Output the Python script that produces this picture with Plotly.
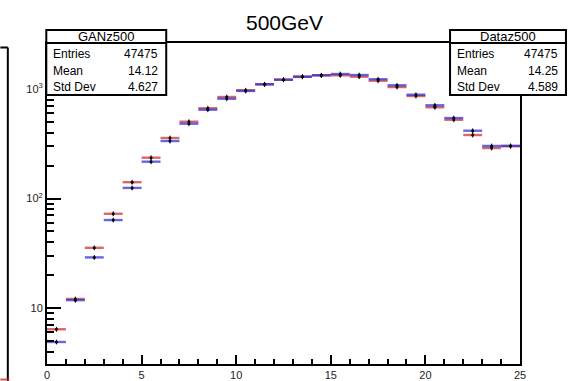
import plotly.graph_objects as go

# ---- data ----
bin_centers = [0.5, 1.5, 2.5, 3.5, 4.5, 5.5, 6.5, 7.5, 8.5, 9.5, 10.5, 11.5,
               12.5, 13.5, 14.5, 15.5, 16.5, 17.5, 18.5, 19.5, 20.5, 21.5,
               22.5, 23.5, 24.5]
gan_counts = [6.4, 12.1, 35.5, 72.6, 141, 236, 357, 503, 667, 845, 975, 1104,
              1216, 1295, 1334, 1334, 1296, 1191, 1042, 863, 681, 524,
              380, 289, 300]
data_counts = [4.9, 11.8, 29.0, 63.6, 125, 217, 335, 482, 647, 815, 960, 1104,
               1216, 1295, 1334, 1371, 1342, 1227, 1081, 887, 710, 543,
               416, 302, 303]
half_width = [0.5] * len(bin_centers)

x_ticks_major = [0, 5, 10, 15, 20, 25]
x_ticks_minor = list(range(0, 26))
y_tick_vals = [10, 100, 1000]
y_tick_text = ["10", "10<sup>2</sup>", "10<sup>3</sup>"]
y_minor_vals = [4, 5, 6, 7, 8, 9, 20, 30, 40, 50, 60, 70, 80, 90,
                200, 300, 400, 500, 600, 700, 800, 900, 2000]

stats_gan = {"name": "GANz500", "Entries": "47475", "Mean": "14.12", "Std Dev": "4.627"}
stats_data = {"name": "Dataz500", "Entries": "47475", "Mean": "14.25", "Std Dev": "4.589"}

# ---- geometry ----
W, H = 570, 381
ML, MR, MT, MB = 46.7, 50, 43, 17
PW, PH = W - ML - MR, H - MT - MB


def px(x):
    return (x - ML) / PW


def py(y):
    return 1 - (y - MT) / PH


FONT = "Liberation Sans"

fig = go.Figure()
for counts, col in [(gan_counts, "rgba(205,45,45,0.72)"), (data_counts, "rgba(45,45,215,0.72)")]:
    fig.add_trace(go.Scatter(
        x=bin_centers, y=counts, mode="markers",
        marker=dict(color="black", size=3),
        error_x=dict(type="data", array=half_width, color=col, thickness=2.4, width=0),
        error_y=dict(type="percent", value=5, color="black", thickness=1, width=0),
        showlegend=False, hoverinfo="x+y",
    ))

fig.update_xaxes(
    range=[0, 25], tickvals=x_ticks_major, ticks="inside", ticklen=9, tickwidth=1.5,
    tickcolor="black", showline=True, linecolor="black", linewidth=2, mirror=True,
    showgrid=False, zeroline=False, automargin=False,
    tickfont=dict(family=FONT, size=11, color="#222"),
    minor=dict(tickvals=x_ticks_minor, ticks="inside", ticklen=5, tickwidth=1.5,
               tickcolor="black", showgrid=False),
)
fig.update_yaxes(
    type="log", range=[0.489, 3.42], tickvals=y_tick_vals, ticktext=y_tick_text,
    ticks="inside", ticklen=14, tickwidth=1.5, tickcolor="black",
    showline=True, linecolor="black", linewidth=2, mirror=True,
    showgrid=False, zeroline=False, automargin=False,
    tickfont=dict(family=FONT, size=11, color="#222"),
    minor=dict(tickvals=y_minor_vals, ticks="inside", ticklen=7, tickwidth=1.5,
               tickcolor="black", showgrid=False),
)

shapes = []
annotations = []


def stats_box(x0, x1, stats):
    y0, ysep, y1 = 30, 43, 95
    shapes.append(dict(type="rect", xref="paper", yref="paper", x0=px(x0), x1=px(x1),
                       y0=py(y1), y1=py(y0), fillcolor="white",
                       line=dict(color="black", width=2), layer="above"))
    shapes.append(dict(type="line", xref="paper", yref="paper", x0=px(x0), x1=px(x1),
                       y0=py(ysep), y1=py(ysep), line=dict(color="black", width=2), layer="above"))
    annotations.append(dict(xref="paper", yref="paper", x=px((x0 + x1) / 2), y=py(36.5),
                            text=stats["name"], showarrow=False, xanchor="center", yanchor="middle",
                            font=dict(family=FONT, size=13, color="black")))
    for key, yy in [("Entries", 54.5), ("Mean", 71), ("Std Dev", 87)]:
        annotations.append(dict(xref="paper", yref="paper", x=px(x0 + 5), y=py(yy), text=key,
                                showarrow=False, xanchor="left", yanchor="middle",
                                font=dict(family=FONT, size=12, color="black")))
        annotations.append(dict(xref="paper", yref="paper", x=px(x1 - 6), y=py(yy), text=stats[key],
                                showarrow=False, xanchor="right", yanchor="middle",
                                font=dict(family=FONT, size=12, color="black")))


stats_box(46, 166, stats_gan)
stats_box(450, 566, stats_data)

annotations.append(dict(xref="paper", yref="paper", x=px(284), y=py(22), text="500GeV",
                        showarrow=False, xanchor="center", yanchor="middle",
                        font=dict(family=FONT, size=21, color="black")))

# neighbouring pad edge on the left
shapes.append(dict(type="line", xref="paper", yref="paper", x0=px(0), x1=px(7.5),
                   y0=py(47.5), y1=py(47.5), line=dict(color="black", width=2)))
shapes.append(dict(type="line", xref="paper", yref="paper", x0=px(7.5), x1=px(7.5),
                   y0=py(47.5), y1=py(381), line=dict(color="black", width=2)))
shapes.append(dict(type="line", xref="paper", yref="paper", x0=px(0), x1=px(9),
                   y0=py(379.5), y1=py(379.5), line=dict(color="rgba(205,45,45,0.8)", width=2)))

fig.update_layout(
    width=W, height=H, margin=dict(l=ML, r=MR, t=MT, b=MB),
    paper_bgcolor="white", plot_bgcolor="white",
    shapes=shapes, annotations=annotations,
    font=dict(family=FONT),
)

fig.write_html("out.html")
